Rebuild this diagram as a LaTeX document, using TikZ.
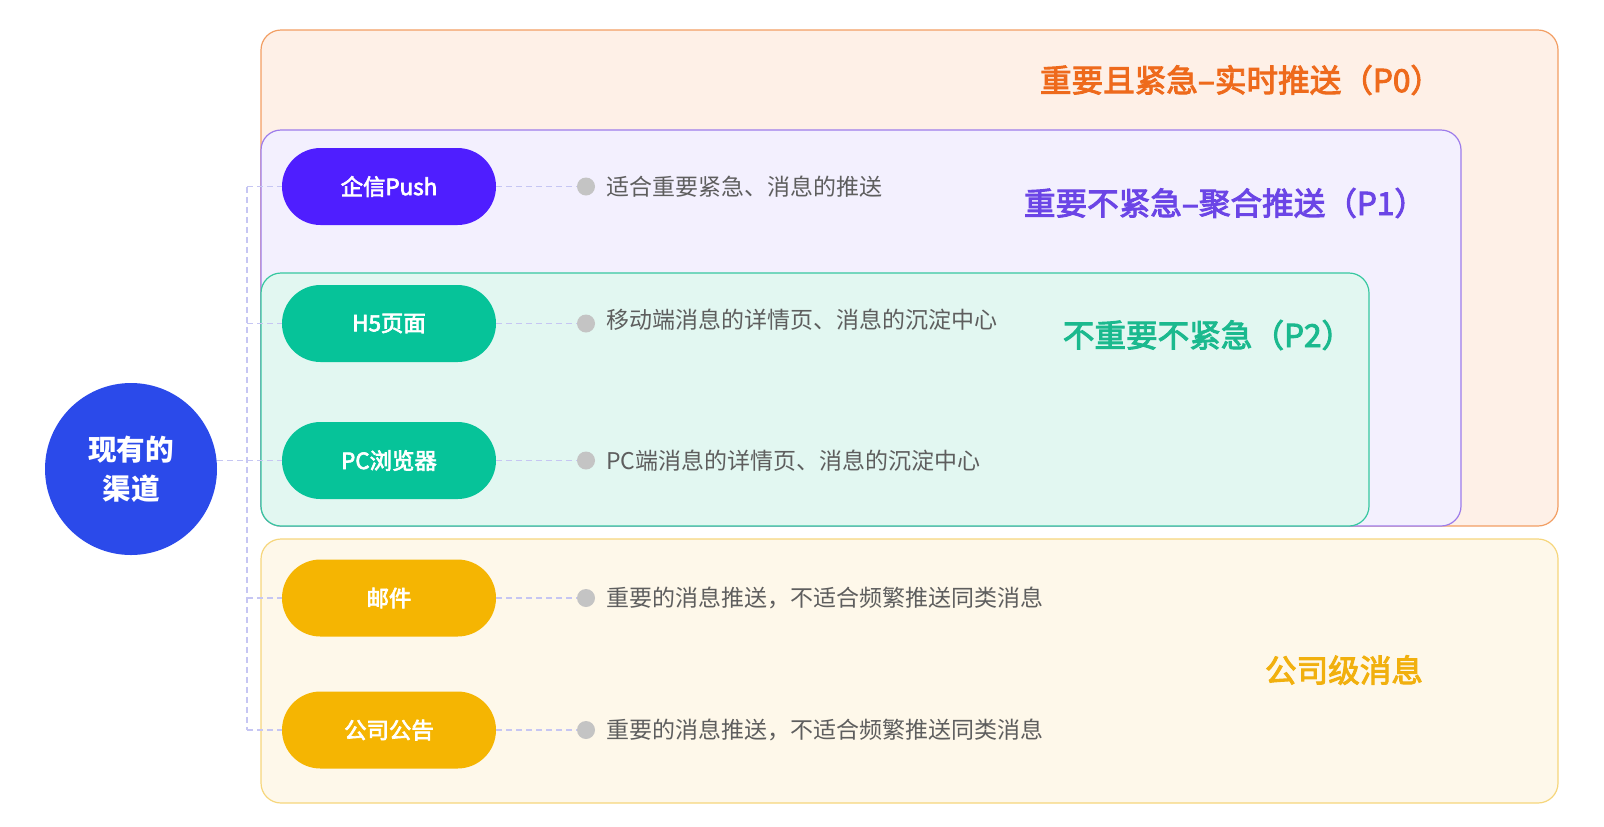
\documentclass[tikz,border=0pt]{standalone}
\usepackage{fontspec}
\setmainfont{Noto Sans CJK SC}
\newfontfamily\semibold{Noto Sans CJK SC}[FakeBold=3]
\usetikzlibrary{shapes.misc}
\definecolor{pzfill}{HTML}{FEF0E7}
\definecolor{pzline}{HTML}{F29E63}
\definecolor{pofill}{HTML}{F3F0FE}
\definecolor{poline}{HTML}{9D7CEB}
\definecolor{ptfill}{HTML}{E2F7F1}
\definecolor{ptline}{HTML}{36C8A0}
\definecolor{yfill}{HTML}{FEF8EA}
\definecolor{yline}{HTML}{F6D67C}
\definecolor{pushc}{HTML}{4F1EFF}
\definecolor{tealc}{HTML}{06C399}
\definecolor{yelc}{HTML}{F5B502}
\definecolor{rootc}{HTML}{2B4AEA}
\definecolor{connc}{HTML}{C6C6F3}
\definecolor{dotc}{HTML}{C4C4C4}
\definecolor{descc}{HTML}{5E5E5E}
\definecolor{tzc}{HTML}{EE6A1C}
\definecolor{toc}{HTML}{6B45E6}
\definecolor{ttc}{HTML}{1BB98E}
\definecolor{tyc}{HTML}{F1B00E}
\begin{document}
\begin{tikzpicture}[x=0.5pt,y=-0.5pt,
  conn/.style={draw=connc, line width=0.6pt, dash pattern=on 3pt off 2pt},
  pill/.style={rounded rectangle, minimum width=107pt, minimum height=38.5pt, inner sep=0pt, text=white, font=\semibold\fontsize{11.2}{13}\selectfont},
  dotnode/.style={circle, fill=dotc, minimum size=9pt, inner sep=0pt},
  desc/.style={anchor=west, text=descc, font=\fontsize{11.5}{14}\selectfont, inner sep=0pt},
  zonetitle/.style={font=\semibold\fontsize{15.8}{18}\selectfont, inner sep=0pt},
  zone/.style={line width=0.6pt, rounded corners=10pt}]
\useasboundingbox (0,0) rectangle (1604,826);
% zones
\draw[zone, draw=pzline, fill=pzfill] (261,30) rectangle (1558,526);
\draw[zone, draw=poline, fill=pofill] (261,130) rectangle (1461,526);
\draw[zone, draw=ptline, fill=ptfill] (261,273) rectangle (1369,526);
\draw[zone, draw=yline, fill=yfill] (261,539) rectangle (1558,803);
% zone titles
\node[zonetitle, text=tzc] (tp0) at (1241,80) {重要且紧急–实时推送（P0）};
\node[zonetitle, text=toc] (tp1) at (1225,203) {重要不紧急–聚合推送（P1）};
\node[zonetitle, text=ttc] (tp2) at (1208,335) {不重要不紧急（P2）};
\node[zonetitle, text=tyc] (tco) at (1344,670) {公司级消息};
% root
\node[circle, fill=rootc, minimum size=86pt, inner sep=0pt, text=white, align=center,
      font=\bfseries\fontsize{14.3}{19.5}\selectfont] (root) at (131,469) {现有的\\渠道};
% pills
\node[pill, fill=pushc] (push) at (389,186.5) {企信Push};
\node[pill, fill=tealc] (h5) at (389,323.5) {H5页面};
\node[pill, fill=tealc] (pc) at (389,460.5) {PC浏览器};
\node[pill, fill=yelc] (mail) at (389,598) {邮件};
\node[pill, fill=yelc] (notice) at (389,730) {公司公告};
% dots
\node[dotnode] (d1) at (586,186.5) {};
\node[dotnode] (d2) at (586,323.5) {};
\node[dotnode] (d3) at (586,460.5) {};
\node[dotnode] (d4) at (586,598) {};
\node[dotnode] (d5) at (586,730) {};
% descriptions
\node[desc] (t1) at (606,186.5) {适合重要紧急、消息的推送};
\node[desc] (t2) at (606,320) {移动端消息的详情页、消息的沉淀中心};
\node[desc] (t3) at (606,460.5) {PC端消息的详情页、消息的沉淀中心};
\node[desc] (t4) at (606,598) {重要的消息推送，不适合频繁推送同类消息};
\node[desc] (t5) at (606,730) {重要的消息推送，不适合频繁推送同类消息};
% connectors
\coordinate (bus) at (247,0);
\draw[conn] (bus |- push.west) -- (bus |- notice.west);
\foreach \n in {push,h5,pc,mail,notice} \draw[conn] (bus |- \n.west) -- (\n.west);
\draw[conn] (root.east |- pc.west) -- (bus |- pc.west);
\draw[conn] (push.east) -- (d1);
\draw[conn] (h5.east) -- (d2);
\draw[conn] (pc.east) -- (d3);
\draw[conn] (mail.east) -- (d4);
\draw[conn] (notice.east) -- (d5);
\end{tikzpicture}
\end{document}
